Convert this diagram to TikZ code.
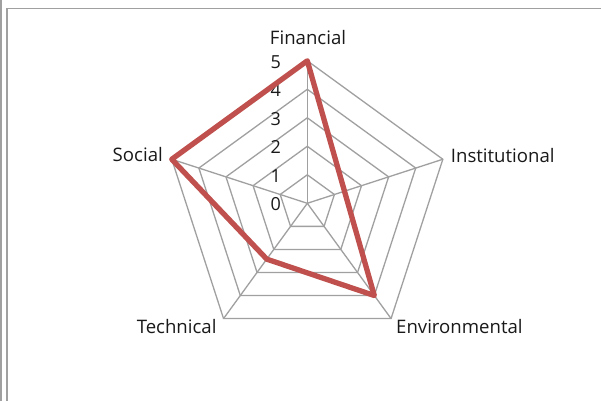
\documentclass[tikz,border=0pt]{standalone}
\usepackage{fontspec}
\setmainfont{Open Sans}
\definecolor{gridgray}{HTML}{A0A0A0}
\definecolor{framegray}{HTML}{A0A0A0}
\definecolor{datared}{HTML}{C0504D}
\tikzset{
  gridline/.style={draw=gridgray, line width=1.3pt},
  frameline/.style={draw=framegray, line width=1.6pt},
  dataline/.style={draw=datared, line width=5.3pt, line join=round},
  lab/.style={inner sep=0pt, font=\fontsize{18.6}{21}\selectfont, text=black!90},
  num/.style={inner sep=0pt, anchor=base east, font=\fontsize{18}{21}\selectfont, text=black!90}
}
\begin{document}
\begin{tikzpicture}[x=1pt,y=1pt]
\useasboundingbox[fill=white] (-307.3,-197.7) rectangle (293.7,203.3);
% frame
\draw[frameline] (-306.3,-197.7) -- (-306.3,203.3);
\draw[frameline] (-300.3,-197.7) -- (-300.3,194.8) -- (293.7,194.8);
% grid
\coordinate (C) at (0,0);
\foreach \k in {1,...,5}{
  \draw[gridline] (90:28.5*\k) -- (18:28.5*\k) -- (-54:28.5*\k) -- (-126:28.5*\k) -- (162:28.5*\k) -- cycle;
}
\foreach \a/\n in {90/F,18/I,-54/E,-126/T,162/S}{
  \coordinate (ax\n) at (\a:142.5);
  \draw[gridline] (C) -- (ax\n);
}
% numbers
\foreach \k in {0,...,5}{
  \node[num] (n\k) at (-26.3,28.5*\k-7.5) {\k};
}
% labels
\node[lab, anchor=base] (lF) at (0.7,158.3) {Financial};
\node[lab, anchor=base west] (lI) at (143.4,40.3) {Institutional};
\node[lab, anchor=base west] (lE) at (88.7,-129.7) {Environmental};
\node[lab, anchor=base east] (lT) at (-90.6,-129.7) {Technical};
\node[lab, anchor=base east] (lS) at (-144.3,41.3) {Social};
% data
\coordinate (dF) at (90:142.5);
\coordinate (dI) at (18:39.1);
\coordinate (dE) at (-54:114);
\coordinate (dT) at (-126:69);
\coordinate (dS) at (162:142.5);
\draw[dataline] (dF) -- (dI) -- (dE) -- (dT) -- (dS) -- cycle;
\end{tikzpicture}
\end{document}
